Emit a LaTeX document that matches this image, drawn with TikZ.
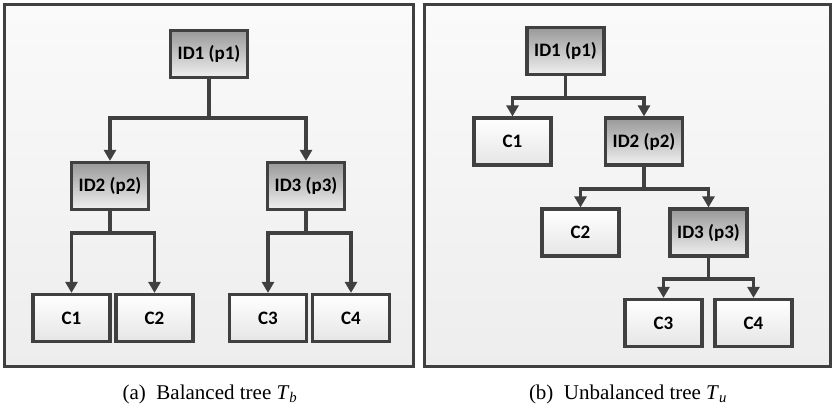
\documentclass[tikz,border=0pt]{standalone}
\usepackage{fontspec}
\setmainfont{Liberation Serif}
\newfontfamily\boxfont{Carlito}
\usetikzlibrary{arrows.meta,shadows}
\definecolor{edge}{HTML}{404040}
\tikzset{
  panel/.style={draw=edge, line width=3pt, top color=black!2, bottom color=black!7, inner sep=0pt},
  basebox/.style={draw=edge, line width=3.2pt, minimum width=77pt, minimum height=47pt, inner sep=0pt,
    font=\boxfont\bfseries\fontsize{19}{21}\selectfont, text=black,
    drop shadow={shadow xshift=1.5pt, shadow yshift=-1.5pt, fill=black!12, opacity=0.6}},
  idbox/.style={basebox, top color=black!40, bottom color=black!6},
  cbox/.style={basebox, top color=white, bottom color=black!10},
  link/.style={draw=edge, line width=3.2pt},
  arr/.style={link, -{Triangle[width=12pt,length=11pt]}},
  caption/.style={font=\fontsize{21}{24}\selectfont}
}
\begin{document}
\begin{tikzpicture}[x=1pt,y=-1pt]
\useasboundingbox (0,0) rectangle (833,409);
% panels
\path[panel] (4,5) rectangle (413,366);
\path[panel] (424,5) rectangle (830,366);
% left tree
\node[idbox] (a1) at (209,54) {ID1 (p1)};
\node[idbox] (a2) at (110,186) {ID2 (p2)};
\node[idbox] (a3) at (306,186) {ID3 (p3)};
\node[cbox] (ac1) at (71.5,318) {C1};
\node[cbox] (ac2) at (154.5,318) {C2};
\node[cbox] (ac3) at (268,318) {C3};
\node[cbox] (ac4) at (351,318) {C4};
\coordinate (ab1) at (209,118);
\coordinate (ab2) at (110,233);
\coordinate (ab3) at (306,233);
\draw[link] (a1.south) -- (ab1);
\draw[arr] (ab1) -| (a2.north);
\draw[arr] (ab1) -| (a3.north);
\draw[link] (a2.south) -- (ab2);
\draw[arr] (ab2) -| (ac1.north);
\draw[arr] (ab2) -| (ac2.north);
\draw[link] (a3.south) -- (ab3);
\draw[arr] (ab3) -| (ac3.north);
\draw[arr] (ab3) -| (ac4.north);
% right tree
\node[idbox] (b1) at (565.5,51) {ID1 (p1)};
\node[cbox] (bc1) at (512.5,141.5) {C1};
\node[idbox] (b2) at (644,141.5) {ID2 (p2)};
\node[cbox] (bc2) at (580.5,232.5) {C2};
\node[idbox] (b3) at (708.5,232.5) {ID3 (p3)};
\node[cbox] (bc3) at (663.5,323) {C3};
\node[cbox] (bc4) at (753.5,323) {C4};
\coordinate (bb1) at (565.5,98);
\coordinate (bb2) at (644,189);
\coordinate (bb3) at (708.5,279);
\draw[link] (b1.south) -- (bb1);
\draw[arr] (bb1) -| (bc1.north);
\draw[arr] (bb1) -| (b2.north);
\draw[link] (b2.south) -- (bb2);
\draw[arr] (bb2) -| (bc2.north);
\draw[arr] (bb2) -| (b3.north);
\draw[link] (b3.south) -- (bb3);
\draw[arr] (bb3) -| (bc3.north);
\draw[arr] (bb3) -| (bc4.north);
% captions
\node[caption] (capa) at (210,394) {(a)\ \ Balanced tree \textit{T}\textsubscript{\textit{b}}};
\node[caption] (capb) at (628,394) {(b)\ \ Unbalanced tree \textit{T}\textsubscript{\textit{u}}};
\end{tikzpicture}
\end{document}
